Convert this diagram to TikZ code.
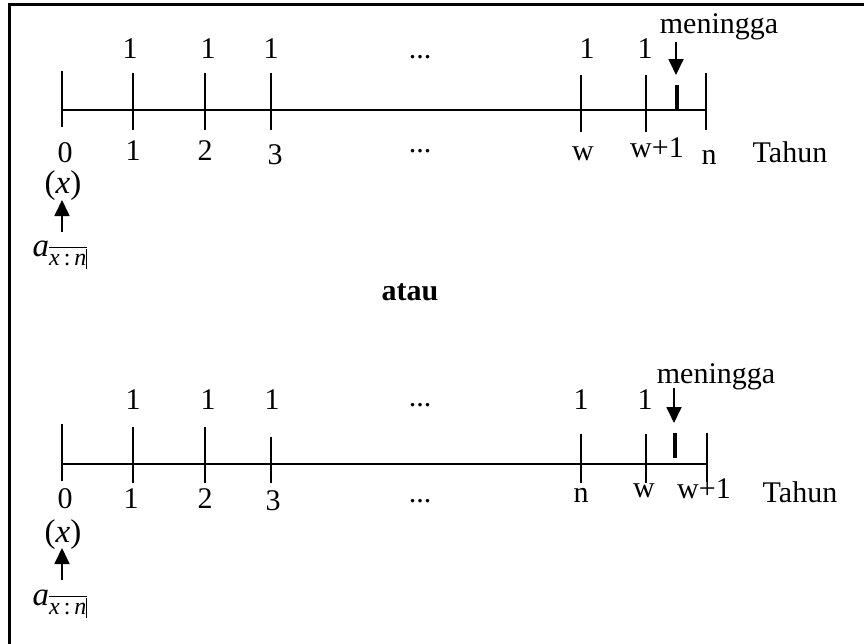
\documentclass[tikz,border=0pt]{standalone}
\usepackage{fontspec}
\setmainfont{Liberation Serif}
\usetikzlibrary{arrows.meta}
\newcommand{\annsym}{\textit{a}\raisebox{-9pt}{$\overline{\mbox{\fontsize{24}{26}\selectfont\textit{x}\,:\,\textit{n}\rule[-3pt]{0.9pt}{20pt}}}$}}
\begin{document}
\begin{tikzpicture}[x=1pt,y=-1pt,
  lbl/.style={anchor=base,inner sep=0pt,font=\fontsize{30}{32}\selectfont},
  mth/.style={anchor=center,inner sep=0pt,font=\fontsize{33}{35}\selectfont},
  tickl/.style={line width=1.6pt},
  axisl/.style={line width=1.6pt},
  death/.style={line width=4.2pt},
  arr/.style={line width=1.8pt,-{Triangle[width=15pt,length=16pt]}},
  framel/.style={line width=3pt}]
\useasboundingbox (0,0) rectangle (864,643);
\draw[framel] (9,646) -- (9,4.5) -- (866,4.5);

% ---------- top diagram ----------
\draw[axisl] (62,110) -- (706,110);
\foreach \x/\a/\b in {62/71/127,133/73/130,205/73/130,271/73/130,581/75/132,646/75/132,706/73/130}
  \draw[tickl] (\x,\a) -- (\x,\b);
\draw[death] (677,85) -- (677,110);

\foreach \n/\x in {ua/130,ub/208,uc/271,ud/587,ue/645}
  \node[lbl] (\n) at (\x,58) {1};
\node[lbl] (udots) at (420,58) {...};
\node[lbl] (mA) at (719,33) {meningga};
\coordinate (mAtail) at (676,42);
\coordinate (mAtip) at (676,75);
\draw[arr] (mAtail) -- (mAtip);

\node[lbl] (l0) at (65,162) {0};
\node[lbl] (l1) at (133,160) {1};
\node[lbl] (l2) at (205,160) {2};
\node[lbl] (l3) at (275,164) {3};
\node[lbl] (ldots) at (420,152) {...};
\node[lbl] (lw) at (583,160) {w};
\node[lbl] (lw1) at (657,157) {w+1};
\node[lbl] (ln) at (709,164) {n};
\node[lbl] (lT) at (790,162) {Tahun};

\node[mth] (xA) at (63,186) {(\textit{x})};
\node[mth] (aA) at (60,255) {\annsym};
\coordinate (aAtop) at (62,232);
\coordinate (xAbot) at (62,200);
\draw[arr] (aAtop) -- (xAbot);

\node[anchor=center,inner sep=0pt,font=\fontsize{30}{32}\selectfont\bfseries] (atau) at (410,292) {atau};

% ---------- bottom diagram ----------
\draw[axisl] (62,464) -- (706,464);
\foreach \x/\a/\b in {62/424/481,133/427/483,205/427/483,271/437/483,581/434/483,646/434/483,707/433/482}
  \draw[tickl] (\x,\a) -- (\x,\b);
\draw[death] (675,433) -- (675,458);

\foreach \n/\x in {va/133,vb/208,vc/272,vd/581,ve/645}
  \node[lbl] (\n) at (\x,409) {1};
\node[lbl] (vdots) at (420,406) {...};
\node[lbl] (mB) at (716,383) {meningga};
\coordinate (mBtail) at (674,388);
\coordinate (mBtip) at (674,423);
\draw[arr] (mBtail) -- (mBtip);

\node[lbl] (k0) at (65,508) {0};
\node[lbl] (k1) at (131,508) {1};
\node[lbl] (k2) at (205,508) {2};
\node[lbl] (k3) at (273,510) {3};
\node[lbl] (kdots) at (420,502) {...};
\node[lbl] (kn) at (581,502) {n};
\node[lbl] (kw) at (644,497) {w};
\node[lbl] (kw1) at (704,498) {w+1};
\node[lbl] (kT) at (800,502) {Tahun};

\node[mth] (xB) at (63,535) {(\textit{x})};
\node[mth] (aB) at (60,604) {\annsym};
\coordinate (aBtop) at (62,580);
\coordinate (xBbot) at (62,548);
\draw[arr] (aBtop) -- (xBbot);
\end{tikzpicture}
\end{document}
